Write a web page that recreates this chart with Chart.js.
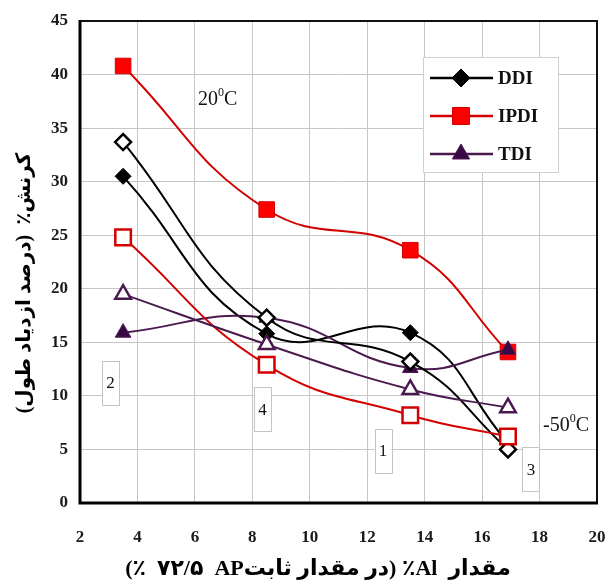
<!DOCTYPE html>
<html>
<head>
<meta charset="utf-8">
<script src="https://cdn.jsdelivr.net/npm/chart.js@4.4.1/dist/chart.umd.min.js"></script>
<style>
  html, body { margin: 0; padding: 0; background: #fff; }
  #wrap { width: 607px; height: 583px; position: relative; }
</style>
</head>
<body>
<div id="wrap"><canvas id="strainChart" width="607" height="583"></canvas></div>
<script>
// Al content (%) at fixed AP 72.5 %
const AL_PCT   = [3.5, 8.5, 13.5, 16.9];

// strain (%) at 20 C
const DDI_20   = [30.5, 15.8, 15.9, 5.6];
const IPDI_20  = [40.8, 27.4, 23.6, 14.1];
const TDI_20   = [15.9, 17.3, 12.6, 14.3];

// strain (%) at -50 C
const DDI_M50  = [33.7, 17.3, 13.2, 5.0];
const IPDI_M50 = [24.8, 12.9, 8.2, 6.2];
const TDI_M50  = [19.5, 14.8, 10.6, 8.9];

const X_TICKS = [2, 4, 6, 8, 10, 12, 14, 16, 18, 20];
const Y_TICKS = [0, 5, 10, 15, 20, 25, 30, 35, 40, 45];

const LEGEND_NAMES = ["DDI", "IPDI", "TDI"];

// RLM keeps the number out of the "AP" run
const X_TITLE = "مقدار  Al٪ (در مقدار ثابتAP\u200F  ۷۲/۵  ٪)";
const Y_TITLE = "کرنش٪  (درصد ازدیاد طول)";

// numbered boxes, anchored in data units
const BOX_LABELS = ["2", "4", "1", "3"];
const BOX_X      = [3.06, 8.35, 12.55, 17.7];
const BOX_Y      = [11.25, 8.73, 4.9, 3.17];

const SERIF = '"Liberation Serif", "Times New Roman", serif';
const TICK_FONT = { family: SERIF, size: 17, weight: "bold" };

const BLACK  = "#000000";
const RED    = "#d40000";
const RED_FILL = "#ff0000";
const PURPLE = "#4a1a4e";
const PURPLE_FILL = "#3a0844";

function series(label, data, color, fill, style, radius, hollow) {
  return {
    label, data: AL_PCT.map((x, i) => ({ x, y: data[i] })),
    borderColor: color, borderWidth: 2,
    pointStyle: style, pointRadius: radius, pointHoverRadius: radius,
    pointBackgroundColor: hollow ? "#ffffff" : fill,
    pointBorderColor: color,
    pointBorderWidth: hollow ? 2.5 : 1,
    tension: 0.45, fill: false,
  };
}

const datasets = [
  series("TDI -50",  TDI_M50,  PURPLE, PURPLE_FILL, "triangle", 9, true),
  series("IPDI -50", IPDI_M50, RED,    RED_FILL,    "rect",     11, true),
  series("DDI -50",  DDI_M50,  BLACK,  BLACK,       "rectRot",  8, true),
  series("TDI",      TDI_20,   PURPLE, PURPLE_FILL, "triangle", 9, false),
  series("IPDI",     IPDI_20,  RED,    RED_FILL,    "rect",     11, false),
  series("DDI",      DDI_20,   BLACK,  BLACK,       "rectRot",  8, false),
];

// frame around the plot area
const framePlugin = {
  id: "frame",
  beforeDatasetsDraw(chart) {
    const { ctx, chartArea: a } = chart;
    ctx.save();
    ctx.strokeStyle = "#111";
    ctx.lineWidth = 2;
    ctx.beginPath();
    ctx.moveTo(a.left, a.top);
    ctx.lineTo(a.right, a.top);
    ctx.lineTo(a.right, a.bottom);
    ctx.stroke();
    ctx.lineWidth = 3;
    ctx.strokeStyle = "#000";
    ctx.beginPath();
    ctx.moveTo(a.left, a.top - 1);
    ctx.lineTo(a.left, a.bottom);
    ctx.lineTo(a.right + 1, a.bottom);
    ctx.stroke();
    ctx.restore();
  },
};

function drawSupC(ctx, x, y, num) {
  ctx.font = "20px " + SERIF;
  ctx.textAlign = "left";
  ctx.textBaseline = "alphabetic";
  ctx.fillText(num, x, y);
  let w = ctx.measureText(num).width;
  ctx.font = "12px " + SERIF;
  ctx.fillText("0", x + w, y - 9);
  w += ctx.measureText("0").width;
  ctx.font = "20px " + SERIF;
  ctx.fillText("C", x + w, y);
}

// temperature notes, numbered boxes, legend and axis titles
const notesPlugin = {
  id: "notes",
  afterDraw(chart) {
    const { ctx } = chart;
    const xs = chart.scales.x, ys = chart.scales.y;
    ctx.save();
    ctx.fillStyle = "#111";
    drawSupC(ctx, xs.getPixelForValue(6.11), ys.getPixelForValue(37.15), "20");
    drawSupC(ctx, xs.getPixelForValue(18.12), ys.getPixelForValue(6.7), "-50");

    BOX_LABELS.forEach((t, i) => {
      const cx = xs.getPixelForValue(BOX_X[i]);
      const cy = ys.getPixelForValue(BOX_Y[i]);
      ctx.fillStyle = "#fff";
      ctx.strokeStyle = "#c4c4c4";
      ctx.lineWidth = 1;
      ctx.fillRect(cx - 8.5, cy - 22, 17, 44);
      ctx.strokeRect(Math.round(cx - 8.5) + 0.5, Math.round(cy - 22) + 0.5, 17, 44);
      ctx.fillStyle = "#111";
      ctx.font = "17px " + SERIF;
      ctx.textAlign = "center";
      ctx.textBaseline = "middle";
      ctx.fillText(t, cx, cy + 1);
    });

    // legend box
    const lx = 423, ly = 57, lw = 135, lh = 115;
    ctx.fillStyle = "#fff";
    ctx.fillRect(lx, ly, lw, lh);
    ctx.strokeStyle = "#d0d0d0";
    ctx.lineWidth = 1;
    ctx.strokeRect(lx + 0.5, ly + 0.5, lw, lh);
    LEGEND_NAMES.forEach((name, i) => {
      const ds = chart.data.datasets.find(d => d.label === name);
      const y = 78 + i * 38;
      ctx.strokeStyle = ds.borderColor;
      ctx.lineWidth = 2.5;
      ctx.beginPath();
      ctx.moveTo(430, y);
      ctx.lineTo(493, y);
      ctx.stroke();
      ctx.fillStyle = ds.pointBackgroundColor;
      ctx.strokeStyle = ds.pointBorderColor;
      ctx.lineWidth = 1;
      Chart.helpers.drawPoint(ctx, {
        pointStyle: ds.pointStyle, radius: ds.pointRadius + 1, rotation: 0, borderWidth: 1,
      }, 461, y);
      ctx.fillStyle = "#111";
      ctx.font = "bold 19px " + SERIF;
      ctx.textAlign = "left";
      ctx.textBaseline = "middle";
      ctx.fillText(name, 498, y + 1);
    });

    // axis titles (right-to-left text)
    ctx.fillStyle = "#000";
    ctx.direction = "rtl";
    ctx.textAlign = "center";
    ctx.textBaseline = "middle";
    ctx.font = 'bold 22px "Liberation Serif", "DejaVu Sans", sans-serif';
    ctx.fillText(X_TITLE, 318, 569);
    ctx.font = 'bold 20px "Liberation Serif", "DejaVu Sans", sans-serif';
    ctx.translate(25, 283);
    ctx.rotate(-Math.PI / 2);
    ctx.fillText(Y_TITLE, 0, 0);
    ctx.restore();
  },
};

new Chart(document.getElementById("strainChart"), {
  type: "line",
  data: { datasets },
  options: {
    responsive: false,
    animation: false,
    events: [],
    layout: { autoPadding: false, padding: { top: 21, right: 10, left: 0, bottom: 0 } },
    plugins: { legend: { display: false }, tooltip: { enabled: false } },
    scales: {
      x: {
        type: "linear", min: 2, max: 20,
        afterFit: s => { s.height = 80; s.paddingLeft = 0; s.paddingRight = 0; },
        afterBuildTicks: s => { s.ticks = X_TICKS.map(v => ({ value: v })); },
        grid: { color: "#c6c6c6", lineWidth: 1, drawTicks: false },
        border: { display: false },
        ticks: { font: TICK_FONT, color: "#1a1a1a", padding: 24, maxRotation: 0 },
      },
      y: {
        type: "linear", min: 0, max: 45,
        afterFit: s => { s.width = 80; s.paddingTop = 0; s.paddingBottom = 0; },
        afterBuildTicks: s => { s.ticks = Y_TICKS.map(v => ({ value: v })); },
        grid: { color: "#c6c6c6", lineWidth: 1, drawTicks: false },
        border: { display: false },
        ticks: { font: TICK_FONT, color: "#1a1a1a", padding: 12 },
      },
    },
  },
  plugins: [framePlugin, notesPlugin],
});
</script>
</body>
</html>
